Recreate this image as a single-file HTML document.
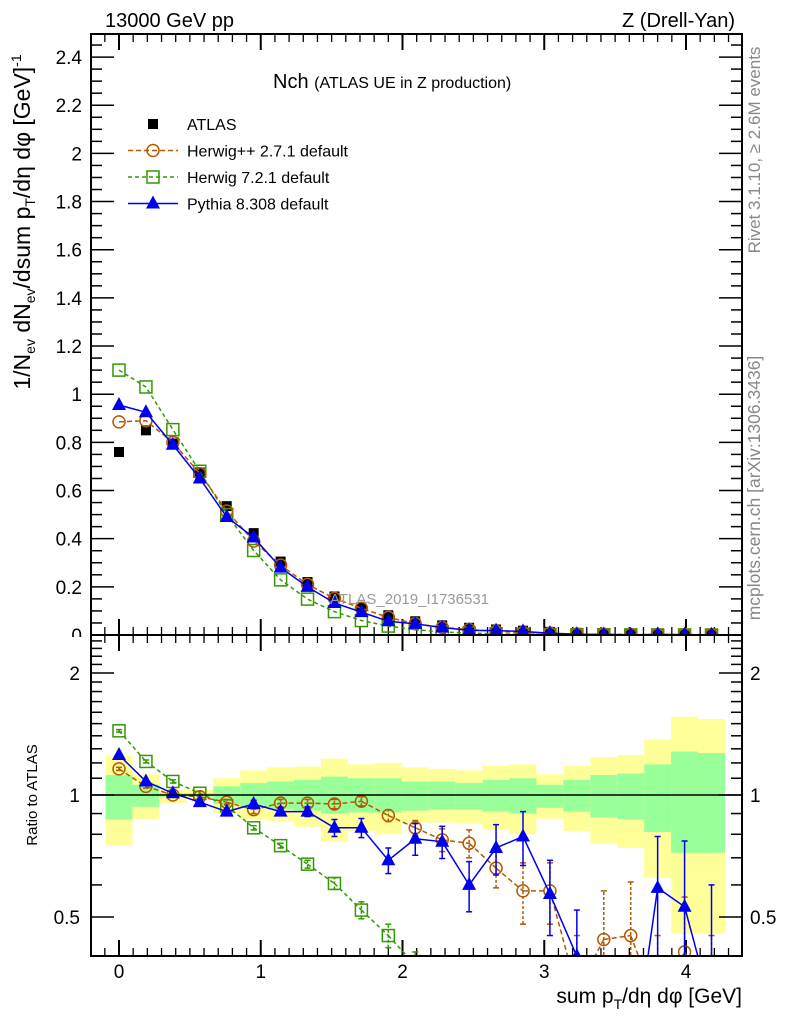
<!DOCTYPE html>
<html><head><meta charset="utf-8"><style>
html,body{margin:0;padding:0;background:#fff;width:786px;height:1024px;overflow:hidden;}
svg{display:block;font-family:"Liberation Sans",sans-serif;}
</style></head><body>
<svg id="c" width="786" height="1024" viewBox="0 0 786 1024" xmlns="http://www.w3.org/2000/svg">
<defs>
<clipPath id="cpMain"><rect x="91" y="34" width="651" height="601"/></clipPath>
<clipPath id="cpRat"><rect x="91" y="635" width="651" height="321"/></clipPath>
</defs>
<g id="bands" clip-path="url(#cpRat)"></g>
<g id="ticks"></g>
<g id="series"></g>
<rect x="91" y="34" width="651" height="601" fill="none" stroke="#000" stroke-width="2"/>
<rect x="91" y="635" width="651" height="321" fill="none" stroke="#000" stroke-width="2"/>
<line x1="91" y1="795" x2="742" y2="795" stroke="#000" stroke-width="1.5"/>
<g id="labels" font-size="19"></g>
<text x="105" y="27" font-size="20">13000 GeV pp</text>
<text x="735" y="27" font-size="20" text-anchor="end">Z (Drell-Yan)</text>
<text x="273" y="88" font-size="20">Nch <tspan font-size="16">(ATLAS UE in Z production)</tspan></text>
<text transform="translate(760,150) rotate(-90)" font-size="17" fill="#888" text-anchor="middle">Rivet 3.1.10, ≥ 2.6M events</text>
<text transform="translate(760,488) rotate(-90)" font-size="17.5" fill="#888" text-anchor="middle">mcplots.cern.ch [arXiv:1306.3436]</text>
<text x="330" y="604" font-size="15" fill="#999">ATLAS_2019_I1736531</text>
<text transform="translate(30,222) rotate(-90)" font-size="23" text-anchor="middle">1/N<tspan font-size="14" dy="5">ev</tspan><tspan dy="-5"> dN</tspan><tspan font-size="14" dy="5">ev</tspan><tspan dy="-5">/dsum p</tspan><tspan font-size="14" dy="5">T</tspan><tspan dy="-5">/dη dφ  [GeV]</tspan><tspan font-size="14" dy="-9">-1</tspan></text>
<text transform="translate(37,795) rotate(-90)" font-size="15" text-anchor="middle">Ratio to ATLAS</text>
<text x="742" y="1003" font-size="21" text-anchor="end">sum p<tspan font-size="14" dy="6">T</tspan><tspan dy="-6">/dη dφ [GeV]</tspan></text>
<g id="legend" font-size="16"></g>
</svg>
<script>
const xs = [0,0.19,0.38,0.57,0.76,0.95,1.14,1.33,1.52,1.71,1.9,2.09,2.28,2.47,2.66,2.85,3.04,3.23,3.42,3.61,3.8,3.99,4.18];
const atlas = [0.76,0.85,0.795,0.675,0.535,0.423,0.305,0.22,0.16,0.115,0.082,0.057,0.04,0.03,0.023,0.018,0.013,0.009,0.007,0.005,0.004,0.003,0.003];
const hpp = [0.885,0.89,0.80,0.67,0.515,0.39,0.29,0.21,0.152,0.111,0.073,0.047,0.031,0.023,0.015,0.010,0.0075,0.003,0.003,0.0023,0.001,0.0012,0.0008];
const h7 = [1.10,1.03,0.853,0.68,0.50,0.351,0.229,0.149,0.097,0.06,0.037,0.022,0.013,0.008,0.005,0.003,0.002,0.001,0.001,0.0005,0.0003,0.0002,0.0001];
const py = [0.955,0.925,0.79,0.65,0.49,0.405,0.28,0.20,0.133,0.095,0.057,0.046,0.031,0.019,0.018,0.015,0.0075,0.0035,0.002,0.001,0.0025,0.0016,0.001];
const hppR = [1.16,1.05,1.0,0.99,0.96,0.92,0.955,0.955,0.95,0.965,0.89,0.83,0.775,0.76,0.66,0.58,0.58,0.33,0.44,0.45,0.3,0.41,0.3];
const hppErr = [0.01,0.01,0.01,0.01,0.015,0.02,0.02,0.02,0.025,0.025,0.03,0.035,0.05,0.06,0.07,0.1,0.1,0.12,0.14,0.16,0.15,0.15,0.15];
const h7R = [1.44,1.21,1.08,1.01,0.94,0.83,0.75,0.675,0.605,0.52,0.45,0.38,0.32,0.27,0.22,0.18,0.15,0.12,0.1,0.09,0.08,0.07,0.06];
const h7Err = [0.01,0.01,0.01,0.01,0.01,0.01,0.01,0.015,0.02,0.025,0.03,0.03,0.03,0.03,0.03,0.03,0.03,0.03,0.03,0.03,0.03,0.03,0.03];
const pyR = [1.255,1.08,1.01,0.96,0.91,0.95,0.91,0.91,0.83,0.83,0.69,0.78,0.767,0.60,0.74,0.79,0.57,0.40,0.2,0.2,0.59,0.53,0.3];
const pyErr = [0.01,0.01,0.01,0.01,0.015,0.02,0.02,0.025,0.04,0.045,0.05,0.07,0.07,0.085,0.105,0.12,0.12,0.12,0.2,0.2,0.2,0.24,0.3];
const yelUp = [1.25,1.125,1.03,1.03,1.10,1.15,1.17,1.175,1.23,1.19,1.20,1.17,1.16,1.15,1.18,1.19,1.125,1.18,1.24,1.255,1.37,1.56,1.54];
const yelDn = [0.75,0.87,0.955,0.985,0.90,0.87,0.86,0.835,0.77,0.815,0.80,0.855,0.855,0.85,0.82,0.80,0.874,0.815,0.76,0.74,0.625,0.455,0.455];
const grnUp = [1.12,1.06,1.01,1.01,1.05,1.07,1.08,1.09,1.11,1.10,1.10,1.08,1.08,1.07,1.09,1.10,1.06,1.09,1.12,1.13,1.19,1.28,1.27];
const grnDn = [0.87,0.935,0.99,0.99,0.95,0.93,0.92,0.915,0.90,0.905,0.905,0.915,0.92,0.92,0.91,0.90,0.93,0.91,0.88,0.87,0.81,0.72,0.72];
const yTicks = ["0","0.2","0.4","0.6","0.8","1","1.2","1.4","1.6","1.8","2","2.2","2.4"];
const xTicks = ["0","1","2","3","4"];
const rTicks = ["0.5","1","2"];

const NS="http://www.w3.org/2000/svg";
const X = v => 119 + v*141.75;
const Y = v => 635 - v*240.8;
const R = v => 795 - Math.log2(v)*122;
const BW = 0.19;
const YMAXR = 965;
function mk(tag, attrs, parent){const e=document.createElementNS(NS,tag);for(const k in attrs)e.setAttribute(k,attrs[k]);parent.appendChild(e);return e;}
const gB=document.getElementById('bands'), gT=document.getElementById('ticks'), gS=document.getElementById('series'), gL=document.getElementById('labels'), gLeg=document.getElementById('legend');

xs.forEach((x,i)=>{
  const x0=X(x-BW/2), w=X(x+BW/2)-x0;
  const y=mk('rect',{x:x0,y:R(yelUp[i]),width:w,height:R(yelDn[i])-R(yelUp[i]),fill:'#ffff99'},gB);
  
  
  const g=mk('rect',{x:x0,y:R(grnUp[i]),width:w,height:R(grnDn[i])-R(grnUp[i]),fill:'#99ff99'},gB);
  
  
});

for(let k=-1;k<=43;k++){
  const v=k/10; const px=X(v); if(px<92||px>741) continue;
  const major=(k%10===0); const L=major?16:8;
  mk('line',{x1:px,y1:34,x2:px,y2:34+L,stroke:'#000','stroke-width':major?2:1.3},gT);
  mk('line',{x1:px,y1:635,x2:px,y2:635-L,stroke:'#000','stroke-width':major?2:1.3},gT);
  mk('line',{x1:px,y1:635,x2:px,y2:635+L,stroke:'#000','stroke-width':major?2:1.3},gT);
  mk('line',{x1:px,y1:956,x2:px,y2:956-L,stroke:'#000','stroke-width':major?2:1.3},gT);
}
for(let k=0;k<=50;k++){
  const v=k*0.05; const py_=Y(v); if(py_<35) continue;
  const major=(k%4===0); const L=major?23:11;
  mk('line',{x1:91,y1:py_,x2:91+L,y2:py_,stroke:'#000','stroke-width':1.5},gT);
  mk('line',{x1:742,y1:py_,x2:742-L,y2:py_,stroke:'#000','stroke-width':1.5},gT);
}
for(let k=4;k<=25;k++){
  const v=k/10; const py_=R(v); if(py_<636||py_>955) continue;
  const major=(k===5||k===10||k===20); const L=major?23:11;
  mk('line',{x1:91,y1:py_,x2:91+L,y2:py_,stroke:'#000','stroke-width':1.5},gT);
  mk('line',{x1:742,y1:py_,x2:742-L,y2:py_,stroke:'#000','stroke-width':1.5},gT);
}
yTicks.forEach(t=>{const e=mk('text',{x:82,y:Y(parseFloat(t))+7,'text-anchor':'end'},gL);e.textContent=t;
  
  });
xTicks.forEach(t=>{const e=mk('text',{x:X(parseFloat(t)),y:978,'text-anchor':'middle'},gL);e.textContent=t;
  
  });
rTicks.forEach(t=>{const v=parseFloat(t);
  const e=mk('text',{x:80,y:R(v)+7,'text-anchor':'end'},gL);e.textContent=t;
  
  
  const f=mk('text',{x:750,y:R(v)+7},gL);f.textContent=t;
  
  });
mk('rect',{x:50,y:637,width:38,height:14,fill:'#fff'},gL);

function marker(type,color,cx,cy,parent){
  if(type==='sq') return mk('rect',{x:cx-5,y:cy-5,width:10,height:10,fill:'#000'},parent);
  if(type==='circ') return mk('circle',{cx:cx,cy:cy,r:6,fill:'none',stroke:color,'stroke-width':1.5},parent);
  if(type==='osq') return mk('rect',{x:cx-6,y:cy-6,width:12,height:12,fill:'none',stroke:color,'stroke-width':1.5},parent);
  return mk('polygon',{points:`${cx},${cy-8} ${cx+7},${cy+5} ${cx-7},${cy+5}`,fill:color},parent);
}
function clipSegs(pts){
  const segs=[];
  for(let i=0;i<pts.length-1;i++){
    let [x1,y1]=pts[i],[x2,y2]=pts[i+1];
    if(y1>YMAXR&&y2>YMAXR) continue;
    if(y1>YMAXR){x1=x1+(x2-x1)*(YMAXR-y1)/(y2-y1);y1=YMAXR;}
    if(y2>YMAXR){x2=x1+(x2-x1)*(YMAXR-y1)/(y2-y1);y2=YMAXR;}
    segs.push([x1,y1,x2,y2]);
  }
  return segs;
}
function series(name,vals,ratio,err,color,dash,type){
  const gm=mk('g',{'clip-path':'url(#cpMain)'},gS);
  
  
  if(color){
    mk('polyline',{points:xs.map((x,i)=>X(x)+','+Y(vals[i])).join(' '),fill:'none',stroke:color,'stroke-width':1.5,'stroke-dasharray':dash||'none'},gm);
  }
  xs.forEach((x,i)=>{const m=marker(type,color,X(x),Y(vals[i]),gm);
    
    });
  if(!ratio) return;
  const gr=mk('g',{'clip-path':'url(#cpRat)'},gS);
  
  
  clipSegs(xs.map((x,i)=>[X(x),R(ratio[i])])).forEach(s=>{
    mk('line',{x1:s[0],y1:s[1],x2:s[2],y2:s[3],stroke:color,'stroke-width':1.5,'stroke-dasharray':dash||'none'},gr);
  });
  xs.forEach((x,i)=>{
    const cx=X(x);
    const lo=Math.min(R(Math.max(ratio[i]-err[i],0.05)),970), hi=Math.max(Math.min(R(ratio[i]+err[i]),970),620);
    if(hi<970) {
      mk('line',{x1:cx,y1:lo,x2:cx,y2:hi,stroke:color,'stroke-width':1.5,'stroke-dasharray':dash?'3,2':'none'},gr);
      mk('line',{x1:cx-3,y1:lo,x2:cx+3,y2:lo,stroke:color,'stroke-width':1.5},gr);
      mk('line',{x1:cx-3,y1:hi,x2:cx+3,y2:hi,stroke:color,'stroke-width':1.5},gr);
    }
    const cy=R(ratio[i]);
    if(cy<970){
      const m=marker(type,color,cx,cy,gr);
      
      
    }
  });
}
series('atlas',atlas,null,null,null,null,'sq');
series('herwig7',h7,h7R,h7Err,'#339900','4,3','osq');
series('herwigpp',hpp,hppR,hppErr,'#b35900','5,3','circ');
series('pythia',py,pyR,pyErr,'#0000ee',null,'tri');

const legItems=[["ATLAS",null,null,'sq'],["Herwig++ 2.7.1 default",'#b35900','5,3','circ'],["Herwig 7.2.1 default",'#339900','4,3','osq'],["Pythia 8.308 default",'#0000ee',null,'tri']];
legItems.forEach((it,i)=>{
  const y=124+i*26.5;
  const g=mk('g',{},gLeg);
  
  
  if(it[1]) mk('line',{x1:128,y1:y,x2:178,y2:y,stroke:it[1],'stroke-width':1.5,'stroke-dasharray':it[2]||'none'},g);
  marker(it[3],it[1],153,y,g);
  const t=mk('text',{x:187,y:y+6},g); t.textContent=it[0];
});
</script>
</body></html>
